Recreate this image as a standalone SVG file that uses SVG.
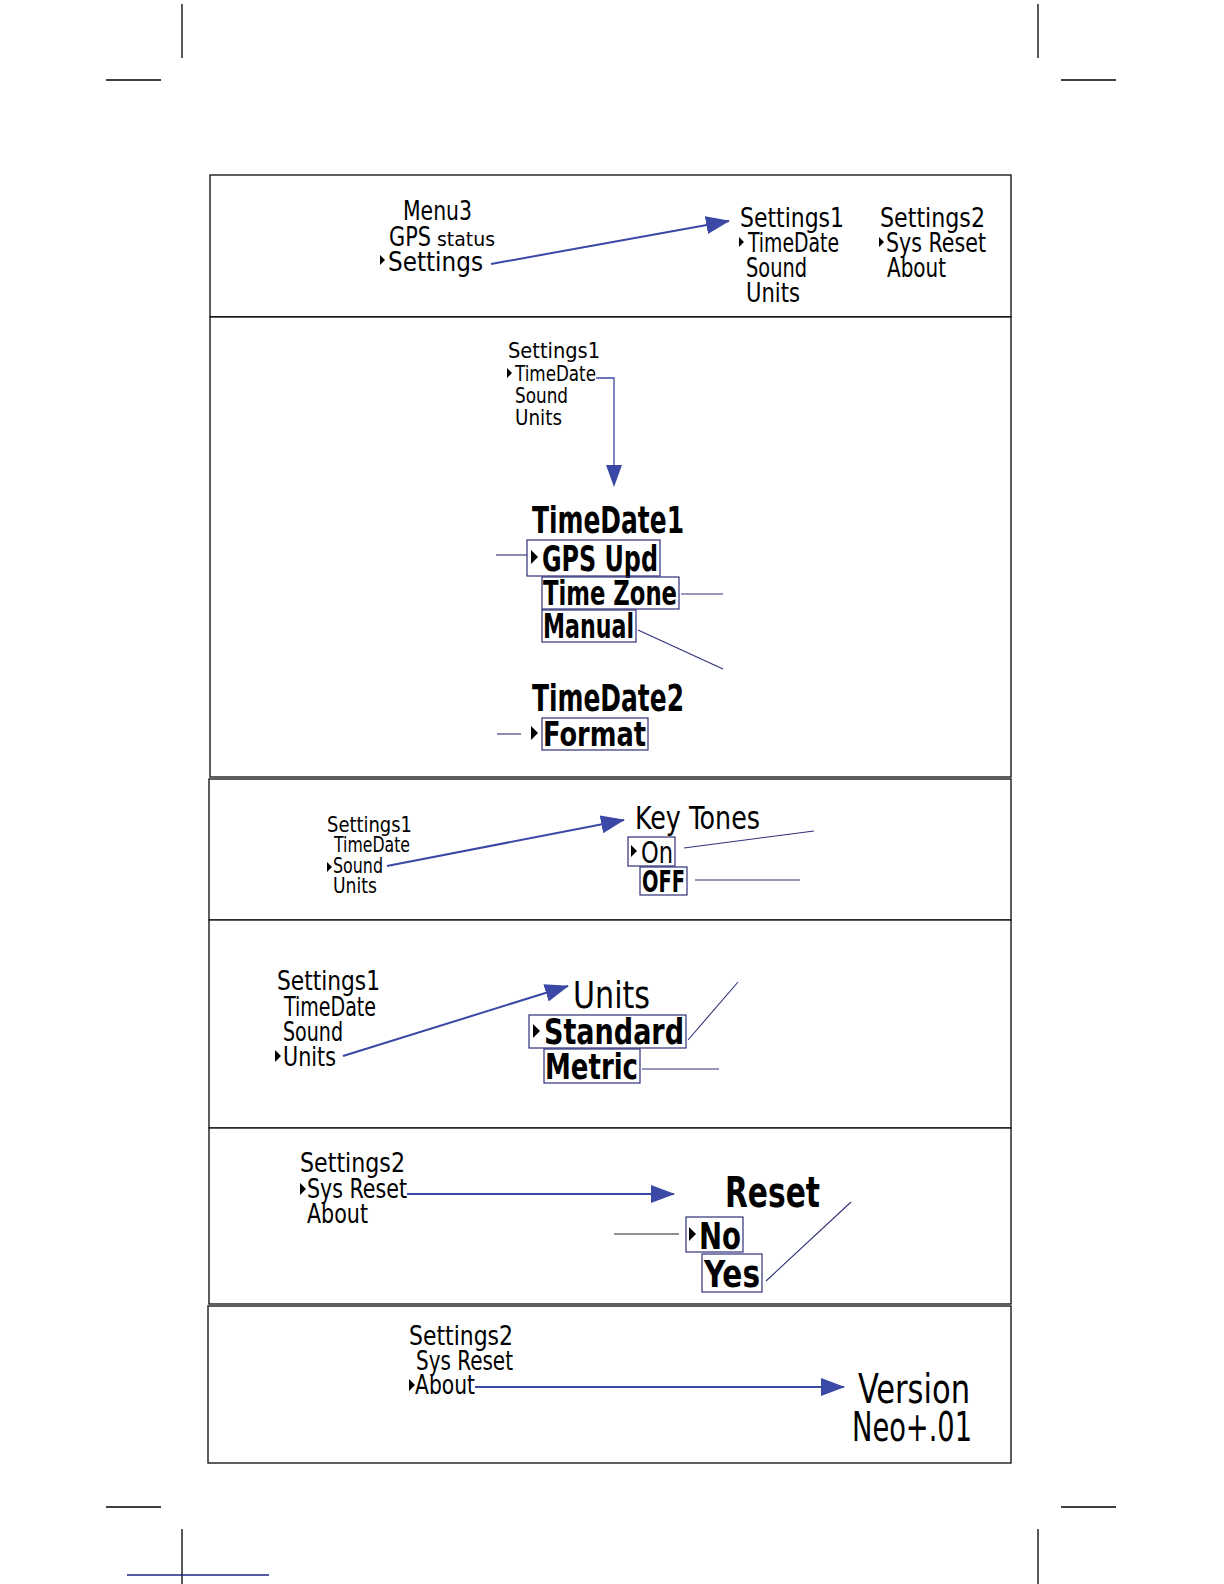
<svg xmlns="http://www.w3.org/2000/svg" width="1224" height="1584" viewBox="0 0 1224 1584">
<style>
.crop{stroke:#000;stroke-width:1.3;fill:none}
.panel{fill:#fff;stroke:#1a1a1a;stroke-width:1.4}
.t{font-family:"DejaVu Sans Condensed","Liberation Sans Narrow","Liberation Sans",sans-serif;fill:#000}
.b{font-weight:bold}
.sel{fill:none;stroke:#2e3178;stroke-width:1.2}
.call{stroke:#2e3178;stroke-width:1.1;fill:none}
.arr{stroke:#3b48a6;stroke-width:2;fill:none}
.tri{fill:#000}
</style>
<defs>
<marker id="ah" markerUnits="userSpaceOnUse" markerWidth="24" markerHeight="18" refX="23" refY="9" orient="auto">
<path d="M0,0 L24,9 L0,18 z" fill="#3b48a6"/>
</marker>
</defs>
<rect width="1224" height="1584" fill="#fff"/>
<g id="cropmarks">
<line class="crop" x1="182" y1="4" x2="182" y2="58"/>
<line class="crop" x1="106" y1="80" x2="161" y2="80"/>
<line class="crop" x1="1038" y1="4" x2="1038" y2="58"/>
<line class="crop" x1="1061" y1="80" x2="1116" y2="80"/>
<line class="crop" x1="106" y1="1507" x2="161" y2="1507"/>
<line class="crop" x1="182" y1="1529" x2="182" y2="1584"/>
<line class="crop" x1="1061" y1="1507" x2="1116" y2="1507"/>
<line class="crop" x1="1038" y1="1529" x2="1038" y2="1584"/>
<line x1="127" y1="1575" x2="269" y2="1575" stroke="#1a237e" stroke-width="1.3"/>
</g>
<g id="panels">
<rect class="panel" x="210" y="175" width="801" height="142"/>
<line x1="210" y1="317" x2="1011" y2="317" stroke="#1a1a1a" stroke-width="2.2"/>
<rect class="panel" x="210" y="317" width="801" height="460"/>
<rect class="panel" x="209" y="779" width="802" height="141"/>
<rect class="panel" x="209" y="920" width="802" height="208"/>
<rect class="panel" x="209" y="1128" width="802" height="176"/>
<rect class="panel" x="208" y="1306" width="803" height="157"/>
</g>

<g id="connectors">
<line class="arr" x1="491" y1="264" x2="729" y2="221" marker-end="url(#ah)"/>
<polyline class="call" points="596,378 614,378 614,466" style="stroke:#3b48a6;stroke-width:1.3"/>
<path d="M606,465 L622,465 L614,487 z" fill="#3b48a6"/>
<line class="call" x1="496" y1="555" x2="527" y2="555"/>
<line class="call" x1="681" y1="594" x2="723" y2="594"/>
<line class="call" x1="638" y1="630" x2="723" y2="669"/>
<line class="call" x1="497" y1="734" x2="521" y2="734"/>
<line class="arr" x1="387" y1="866" x2="624" y2="820" marker-end="url(#ah)"/>
<line class="call" x1="684" y1="848" x2="814" y2="831"/>
<line class="call" x1="695" y1="880" x2="800" y2="880"/>
<line class="arr" x1="343" y1="1056" x2="568" y2="986" marker-end="url(#ah)"/>
<line class="call" x1="688" y1="1040" x2="738" y2="982"/>
<line class="call" x1="642" y1="1069" x2="719" y2="1069"/>
<line class="arr" x1="407" y1="1194" x2="674" y2="1194" marker-end="url(#ah)"/>
<line class="call" x1="614" y1="1234" x2="679" y2="1234" style="stroke:#222"/>
<line class="call" x1="766" y1="1281" x2="851" y2="1202"/>
<line class="arr" x1="475" y1="1387" x2="844" y2="1387" marker-end="url(#ah)"/>
</g>

<g id="node-menu3">
<text class="t" x="403" y="220" font-size="26" textLength="69" lengthAdjust="spacingAndGlyphs">Menu3</text>
<text class="t" x="389" y="246" font-size="26" textLength="42" lengthAdjust="spacingAndGlyphs">GPS</text>
<text class="t" x="437" y="246" font-size="20" textLength="58" lengthAdjust="spacingAndGlyphs">status</text>
<polygon class="tri" points="380,255 385,260 380,265"/>
<text class="t" x="388" y="271" font-size="26" textLength="95" lengthAdjust="spacingAndGlyphs">Settings</text>
</g>
<g id="node-settings1-a">
<text class="t" x="740" y="227" font-size="26" textLength="104" lengthAdjust="spacingAndGlyphs">Settings1</text>
<polygon class="tri" points="739,237 744,242 739,247"/>
<text class="t" x="748" y="252" font-size="26" textLength="91" lengthAdjust="spacingAndGlyphs">TimeDate</text>
<text class="t" x="746" y="277" font-size="26" textLength="61" lengthAdjust="spacingAndGlyphs">Sound</text>
<text class="t" x="746" y="302" font-size="26" textLength="54" lengthAdjust="spacingAndGlyphs">Units</text>
</g>
<g id="node-settings2-a">
<text class="t" x="880" y="227" font-size="26" textLength="105" lengthAdjust="spacingAndGlyphs">Settings2</text>
<polygon class="tri" points="879,237 884,242 879,247"/>
<text class="t" x="886" y="252" font-size="26" textLength="100" lengthAdjust="spacingAndGlyphs">Sys Reset</text>
<text class="t" x="887" y="277" font-size="26" textLength="59" lengthAdjust="spacingAndGlyphs">About</text>
</g>

<g id="node-settings1-b">
<text class="t" x="508" y="358" font-size="22" textLength="92" lengthAdjust="spacingAndGlyphs">Settings1</text>
<polygon class="tri" points="507,368 512,373 507,378"/>
<text class="t" x="515" y="381" font-size="22" textLength="81" lengthAdjust="spacingAndGlyphs">TimeDate</text>
<text class="t" x="515" y="403" font-size="22" textLength="53" lengthAdjust="spacingAndGlyphs">Sound</text>
<text class="t" x="515" y="425" font-size="22" textLength="47" lengthAdjust="spacingAndGlyphs">Units</text>
</g>
<g id="node-timedate1">
<text class="t b" x="532" y="533" font-size="38" textLength="152" lengthAdjust="spacingAndGlyphs">TimeDate1</text>
<rect class="sel" x="527" y="540" width="133" height="36"/>
<polygon class="tri" points="531,550 538,557 531,564"/>
<text class="t b" x="542" y="571" font-size="36" textLength="116" lengthAdjust="spacingAndGlyphs">GPS Upd</text>
<rect class="sel" x="542" y="577" width="137" height="32"/>
<text class="t b" x="543" y="605" font-size="33" textLength="134" lengthAdjust="spacingAndGlyphs">Time Zone</text>
<rect class="sel" x="542" y="610" width="94" height="32"/>
<text class="t b" x="543" y="638" font-size="33" textLength="91" lengthAdjust="spacingAndGlyphs">Manual</text>
</g>
<g id="node-timedate2">
<text class="t b" x="532" y="711" font-size="38" textLength="152" lengthAdjust="spacingAndGlyphs">TimeDate2</text>
<polygon class="tri" points="531,726 538,733 531,740"/>
<rect class="sel" x="542" y="718" width="106" height="32"/>
<text class="t b" x="543" y="746" font-size="34" textLength="103" lengthAdjust="spacingAndGlyphs">Format</text>
</g>

<g id="node-settings1-c">
<text class="t" x="327" y="832" font-size="21" textLength="85" lengthAdjust="spacingAndGlyphs">Settings1</text>
<text class="t" x="334" y="852" font-size="21" textLength="76" lengthAdjust="spacingAndGlyphs">TimeDate</text>
<polygon class="tri" points="327,862 332,867 327,872"/>
<text class="t" x="333" y="873" font-size="21" textLength="50" lengthAdjust="spacingAndGlyphs">Sound</text>
<text class="t" x="333" y="893" font-size="21" textLength="44" lengthAdjust="spacingAndGlyphs">Units</text>
</g>
<g id="node-keytones">
<text class="t" x="635" y="829" font-size="32" textLength="125" lengthAdjust="spacingAndGlyphs">Key Tones</text>
<rect class="sel" x="628" y="837" width="47" height="29"/>
<polygon class="tri" points="631,845 637,851 631,857"/>
<text class="t" x="641" y="863" font-size="30" textLength="32" lengthAdjust="spacingAndGlyphs">On</text>
<rect class="sel" x="640" y="867" width="47" height="28"/>
<text class="t b" x="642" y="892" font-size="30" textLength="43" lengthAdjust="spacingAndGlyphs">OFF</text>
</g>

<g id="node-settings1-d">
<text class="t" x="277" y="990" font-size="26" textLength="103" lengthAdjust="spacingAndGlyphs">Settings1</text>
<text class="t" x="284" y="1016" font-size="26" textLength="92" lengthAdjust="spacingAndGlyphs">TimeDate</text>
<text class="t" x="283" y="1041" font-size="26" textLength="60" lengthAdjust="spacingAndGlyphs">Sound</text>
<polygon class="tri" points="275,1050 281,1056 275,1062"/>
<text class="t" x="283" y="1066" font-size="26" textLength="53" lengthAdjust="spacingAndGlyphs">Units</text>
</g>
<g id="node-units">
<text class="t" x="573" y="1008" font-size="38" textLength="77" lengthAdjust="spacingAndGlyphs">Units</text>
<rect class="sel" x="529" y="1015" width="157" height="33"/>
<polygon class="tri" points="533,1024 540,1031 533,1038"/>
<text class="t b" x="544" y="1044" font-size="35" textLength="140" lengthAdjust="spacingAndGlyphs">Standard</text>
<rect class="sel" x="544" y="1049" width="96" height="34"/>
<text class="t b" x="545" y="1079" font-size="35" textLength="93" lengthAdjust="spacingAndGlyphs">Metric</text>
</g>

<g id="node-settings2-e">
<text class="t" x="300" y="1172" font-size="26" textLength="105" lengthAdjust="spacingAndGlyphs">Settings2</text>
<polygon class="tri" points="300,1183 306,1189 300,1195"/>
<text class="t" x="307" y="1198" font-size="26" textLength="100" lengthAdjust="spacingAndGlyphs">Sys Reset</text>
<text class="t" x="307" y="1223" font-size="26" textLength="61" lengthAdjust="spacingAndGlyphs">About</text>
</g>
<g id="node-reset">
<text class="t b" x="725" y="1207" font-size="42" textLength="95" lengthAdjust="spacingAndGlyphs">Reset</text>
<rect class="sel" x="686" y="1217" width="57" height="35"/>
<polygon class="tri" points="689,1227 696,1234 689,1241"/>
<text class="t b" x="699" y="1249" font-size="37" textLength="42" lengthAdjust="spacingAndGlyphs">No</text>
<rect class="sel" x="702" y="1254" width="60" height="38"/>
<text class="t b" x="704" y="1287" font-size="37" textLength="56" lengthAdjust="spacingAndGlyphs">Yes</text>
</g>

<g id="node-settings2-f">
<text class="t" x="409" y="1345" font-size="26" textLength="104" lengthAdjust="spacingAndGlyphs">Settings2</text>
<text class="t" x="416" y="1370" font-size="26" textLength="97" lengthAdjust="spacingAndGlyphs">Sys Reset</text>
<polygon class="tri" points="409,1379 415,1385 409,1391"/>
<text class="t" x="415" y="1394" font-size="26" textLength="60" lengthAdjust="spacingAndGlyphs">About</text>
</g>
<g id="node-version">
<text class="t" x="858" y="1403" font-size="40" textLength="112" lengthAdjust="spacingAndGlyphs">Version</text>
<text class="t" x="852" y="1441" font-size="40" textLength="120" lengthAdjust="spacingAndGlyphs">Neo+.01</text>
</g>
</svg>
